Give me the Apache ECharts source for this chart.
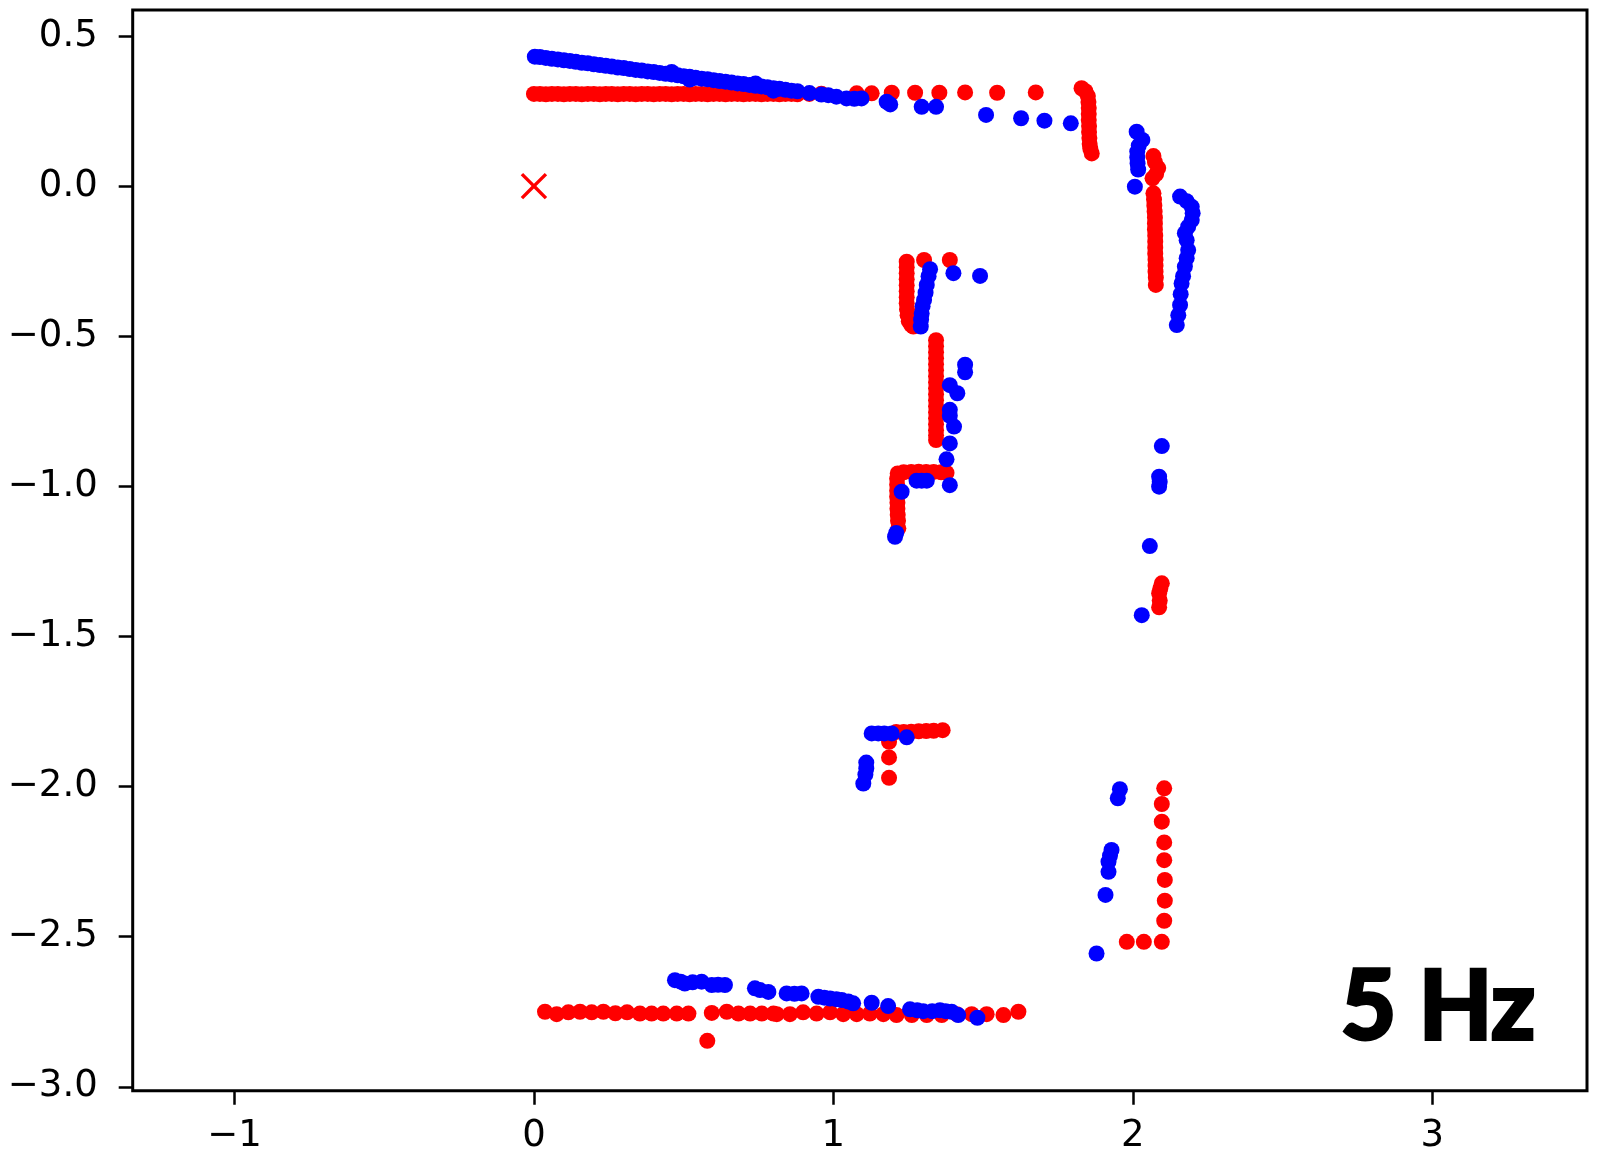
<!DOCTYPE html>
<html>
<head>
<meta charset="utf-8">
<script src="https://cdn.jsdelivr.net/npm/echarts@6/dist/echarts.min.js"></script>
<style>
  html, body { margin: 0; padding: 0; background: #fff; }
  #chart { width: 1598px; height: 1162px; }
</style>
</head>
<body>
<div id="chart"></div>
<script>
// tick labels
const xTicks = [-1, 0, 1, 2, 3]
const yTicks = [0.5, 0, -0.5, -1, -1.5, -2, -2.5, -3]
const panelLabel = '5 Hz'

// red points
const redTop = [
  [0.00,0.307],[0.02,0.307],[0.04,0.306],[0.06,0.307],[0.08,0.307],[0.10,0.306],[0.12,0.307],[0.14,0.307],
  [0.16,0.306],[0.18,0.307],[0.20,0.307],[0.22,0.306],[0.24,0.307],[0.26,0.307],[0.28,0.306],[0.30,0.307],
  [0.32,0.307],[0.34,0.306],[0.36,0.307],[0.38,0.307],[0.40,0.306],[0.42,0.307],[0.44,0.307],[0.46,0.306],
  [0.48,0.307],[0.50,0.307],[0.52,0.306],[0.54,0.307],[0.56,0.307],[0.58,0.306],[0.60,0.307],[0.62,0.307],
  [0.64,0.306],[0.66,0.307],[0.68,0.307],[0.70,0.306],[0.72,0.307],[0.74,0.307],[0.76,0.306],[0.78,0.307],
  [0.80,0.307],[0.82,0.306],[0.84,0.307],[0.86,0.307],[0.88,0.306],[0.92,0.307],[0.96,0.308],[1.078,0.309],
  [1.128,0.309],[1.195,0.311],[1.273,0.311],[1.354,0.311],[1.44,0.312],[1.547,0.311],[1.676,0.312],
  [1.829,0.326],[1.842,0.316],[1.85,0.30],[1.852,0.28],[1.853,0.26],[1.853,0.24],[1.853,0.22],[1.854,0.20],
  [1.854,0.18],[1.855,0.16],[1.856,0.14],[1.858,0.125],[1.863,0.109]
]
const redRight = [
  [2.069,0.10],[2.074,0.08],[2.085,0.06],[2.078,0.04],[2.066,0.026],
  [2.069,-0.024],[2.071,-0.045],[2.072,-0.065],[2.073,-0.085],[2.074,-0.105],[2.074,-0.125],[2.074,-0.145],
  [2.075,-0.165],[2.075,-0.185],[2.075,-0.205],[2.075,-0.225],[2.076,-0.245],[2.076,-0.265],[2.076,-0.285],
  [2.077,-0.305],[2.077,-0.329],
  [2.097,-1.323],[2.092,-1.34],[2.088,-1.356],[2.09,-1.38],[2.088,-1.403],
  [2.105,-2.006],[2.097,-2.058],[2.097,-2.117],[2.105,-2.186],[2.105,-2.245],[2.107,-2.311],[2.107,-2.380],
  [2.105,-2.447],[2.097,-2.517],[1.980,-2.517],[2.037,-2.517]
]
const redMid = [
  [1.245,-0.252],[1.245,-0.27],[1.245,-0.29],[1.245,-0.31],[1.245,-0.33],[1.245,-0.35],[1.245,-0.37],
  [1.245,-0.39],[1.246,-0.41],[1.248,-0.43],[1.252,-0.45],[1.26,-0.462],[1.267,-0.468],
  [1.303,-0.246],[1.389,-0.246],
  [1.343,-0.513],[1.343,-0.533],[1.343,-0.553],[1.343,-0.573],[1.343,-0.593],[1.343,-0.613],[1.343,-0.633],
  [1.343,-0.653],[1.343,-0.673],[1.343,-0.693],[1.343,-0.713],[1.343,-0.733],[1.343,-0.753],[1.343,-0.773],
  [1.343,-0.793],[1.343,-0.813],[1.343,-0.830],[1.343,-0.846],
  [1.378,-0.955],[1.36,-0.953],[1.335,-0.952],[1.31,-0.952],[1.285,-0.951],[1.26,-0.952],[1.235,-0.953],
  [1.215,-0.957],[1.213,-0.975],[1.213,-0.995],[1.213,-1.015],[1.213,-1.035],[1.214,-1.055],[1.214,-1.075],
  [1.215,-1.095],[1.216,-1.115],[1.217,-1.14]
]
const redLow = [
  [1.21,-1.818],[1.235,-1.818],[1.26,-1.817],[1.285,-1.816],[1.31,-1.815],[1.335,-1.814],[1.365,-1.812],
  [1.186,-1.851],[1.186,-1.903],[1.186,-1.971]
]
const redBottom = [
  [0.037,-2.750],[0.076,-2.758],[0.115,-2.752],[0.154,-2.750],[0.193,-2.752],[0.232,-2.750],[0.272,-2.755],
  [0.311,-2.752],[0.354,-2.756],[0.393,-2.756],[0.432,-2.756],[0.477,-2.756],[0.516,-2.756],[0.594,-2.754],
  [0.644,-2.750],[0.683,-2.756],[0.722,-2.756],[0.761,-2.756],[0.800,-2.756],[0.811,-2.758],[0.855,-2.758],
  [0.899,-2.752],[0.944,-2.756],[0.989,-2.752],[1.033,-2.758],[1.078,-2.758],[1.122,-2.756],[1.167,-2.758],
  [1.211,-2.761],[1.262,-2.761],[1.312,-2.761],[1.362,-2.761],[1.412,-2.758],[1.462,-2.758],[1.512,-2.758],
  [1.568,-2.761],[1.618,-2.750],[0.579,-2.847]
]

// blue points
const blueTop = [
  [0.003,0.431],[0.02,0.430],[0.04,0.427],[0.06,0.424],[0.08,0.422],[0.10,0.419],[0.12,0.417],[0.14,0.414],
  [0.16,0.411],[0.18,0.409],[0.20,0.406],[0.22,0.403],[0.24,0.401],[0.26,0.398],[0.28,0.395],[0.30,0.393],
  [0.32,0.390],[0.34,0.387],[0.36,0.385],[0.38,0.382],[0.40,0.380],[0.42,0.377],[0.44,0.374],[0.46,0.372],
  [0.46,0.380],[0.48,0.369],[0.50,0.366],[0.52,0.364],[0.52,0.355],[0.54,0.361],[0.56,0.358],[0.58,0.356],
  [0.60,0.353],[0.62,0.350],[0.64,0.348],[0.66,0.345],[0.68,0.342],[0.70,0.340],[0.72,0.337],[0.74,0.334],
  [0.74,0.342],[0.76,0.332],[0.78,0.329],[0.80,0.326],[0.80,0.318],[0.82,0.324],[0.84,0.321],[0.86,0.318],
  [0.88,0.316],[0.92,0.310],[0.96,0.305],[0.983,0.303],[1.01,0.298],[1.044,0.292],[1.07,0.291],[1.094,0.292],
  [1.178,0.281],[1.19,0.272],[1.295,0.264],[1.343,0.264],[1.51,0.237],[1.627,0.226],[1.705,0.218],[1.793,0.209]
]
const blueRight = [
  [2.013,0.181],[2.032,0.154],[2.02,0.135],[2.015,0.115],[2.015,0.095],[2.016,0.075],[2.018,0.055],[2.007,-0.002],
  [2.158,-0.035],[2.18,-0.05],[2.197,-0.069],[2.2,-0.09],[2.197,-0.113],[2.185,-0.135],[2.174,-0.157],
  [2.18,-0.18],[2.185,-0.213],[2.18,-0.24],[2.174,-0.268],[2.168,-0.30],[2.163,-0.324],[2.16,-0.36],
  [2.158,-0.396],[2.152,-0.43],[2.147,-0.463],
  [2.097,-0.866],[2.088,-0.968],[2.09,-0.985],[2.088,-1.001],[2.057,-1.199],[2.030,-1.429]
]
const blueMid = [
  [1.323,-0.277],[1.318,-0.30],[1.312,-0.329],[1.308,-0.355],[1.303,-0.379],[1.298,-0.40],[1.295,-0.424],
  [1.293,-0.445],[1.292,-0.468],[1.401,-0.29],[1.49,-0.299],
  [1.44,-0.595],[1.44,-0.62],[1.389,-0.663],[1.414,-0.69],[1.389,-0.745],[1.389,-0.765],[1.403,-0.801],
  [1.389,-0.857],[1.378,-0.91],[1.389,-0.996],[1.228,-1.018],[1.278,-0.981],[1.295,-0.981],[1.312,-0.981],
  [1.206,-1.168],[1.21,-1.155]
]
const blueLow = [
  [1.128,-1.823],[1.15,-1.823],[1.17,-1.823],[1.195,-1.823],[1.245,-1.836],
  [1.11,-1.92],[1.11,-1.94],[1.107,-1.96],[1.10,-1.99],
  [1.957,-2.009],[1.950,-2.039],[1.929,-2.211],[1.924,-2.23],[1.919,-2.250],[1.919,-2.284],
  [1.909,-2.361],[1.879,-2.556]
]
const blueBottom = [
  [0.471,-2.645],[0.49,-2.65],[0.504,-2.656],[0.53,-2.652],[0.56,-2.650],[0.594,-2.661],[0.615,-2.66],
  [0.638,-2.661],[0.738,-2.672],[0.755,-2.678],[0.783,-2.684],[0.844,-2.689],[0.87,-2.69],[0.894,-2.689],
  [0.950,-2.700],[0.97,-2.703],[0.989,-2.706],[1.01,-2.708],[1.028,-2.711],[1.05,-2.716],[1.066,-2.722],
  [1.128,-2.720],[1.183,-2.731],[1.256,-2.742],[1.28,-2.745],[1.300,-2.748],[1.33,-2.748],[1.356,-2.745],
  [1.375,-2.748],[1.395,-2.750],[1.417,-2.761],[1.481,-2.770]
]

const origin = [[0, 0]]

const redPoints = [...redTop, ...redRight, ...redMid, ...redLow, ...redBottom]
const bluePoints = [...blueTop, ...blueRight, ...blueMid, ...blueLow, ...blueBottom]

const fmt = (v, digits) => (v < 0 ? '\u2212' : '') + Math.abs(v).toFixed(digits)

const tickFont = {
  color: '#000',
  fontFamily: 'DejaVu Sans',
  fontSize: 37,
}

const tickStyle = { color: '#000', width: 2.5 }

const chart = echarts.init(document.getElementById('chart'), null, { renderer: 'canvas' })

chart.setOption({
  animation: false,
  backgroundColor: '#fff',
  grid: {
    left: 132.7,
    right: 11,
    top: 10,
    bottom: 71.3,
    show: true,
    borderColor: '#000',
    borderWidth: 3,
    backgroundColor: '#fff',
  },
  xAxis: {
    type: 'value',
    min: -1.34,
    max: 3.517,
    axisLine: { show: false, onZero: false },
    splitLine: { show: false },
    axisTick: { show: true, customValues: xTicks, length: 14, lineStyle: tickStyle },
    axisLabel: {
      ...tickFont,
      customValues: xTicks,
      margin: 27,
      formatter: (v) => fmt(v, 0),
    },
  },
  yAxis: {
    type: 'value',
    min: -3.013,
    max: 0.5866,
    axisLine: { show: false, onZero: false },
    splitLine: { show: false },
    axisTick: { show: true, customValues: yTicks, length: 14, lineStyle: tickStyle },
    axisLabel: {
      ...tickFont,
      customValues: yTicks,
      margin: 35,
      formatter: (v) => fmt(v, 1),
    },
  },
  series: [
    {
      type: 'scatter',
      data: redPoints,
      symbol: 'circle',
      symbolSize: 16,
      itemStyle: { color: '#ff0000', opacity: 1 },
    },
    {
      type: 'scatter',
      data: bluePoints,
      symbol: 'circle',
      symbolSize: 16,
      itemStyle: { color: '#0000ff', opacity: 1 },
    },
    {
      type: 'scatter',
      data: origin,
      symbol: 'path://M4.5,0H5.5V4.5H10V5.5H5.5V10H4.5V5.5H0V4.5H4.5Z',
      symbolRotate: 45,
      symbolSize: 34,
      itemStyle: { color: '#ff0000', opacity: 1 },
    },
  ],
  graphic: [
    {
      type: 'text',
      x: 1535,
      y: 1008,
      style: {
        text: panelLabel,
        fill: '#000',
        stroke: '#000',
        lineWidth: 4,
        fontFamily: 'Lato',
        fontWeight: 'bold',
        fontSize: 95,
        align: 'right',
        verticalAlign: 'middle',
      },
    },
  ],
})
</script>
</body>
</html>
